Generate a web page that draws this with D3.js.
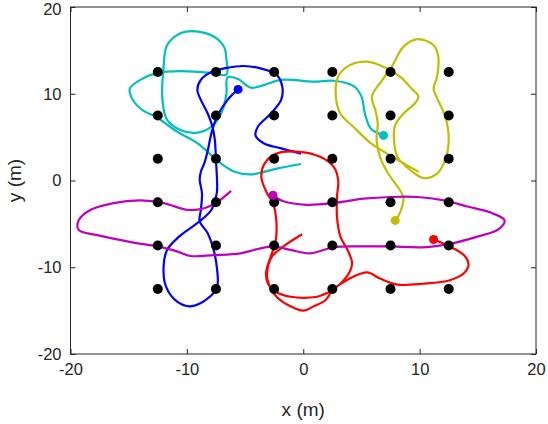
<!DOCTYPE html>
<html><head><meta charset="utf-8">
<script src="https://cdn.jsdelivr.net/npm/d3@7"></script>
<style>body{margin:0;background:#fff}</style></head>
<body><svg id="c" width="548" height="424"></svg>
<script>
const xTicks=[-20,-10,0,10,20], yTicks=[-20,-10,0,10,20];
const gridX=[-12.5,-7.5,-2.5,2.5,7.5,12.5], gridY=[-12.5,-7.5,-2.5,2.5,7.5,12.5];
const cyan=[[-0.2,1.9],[-2.2,1.4],[-4.5,0.7],[-5.9,1.0],[-7.1,2.0],[-9.1,4.3],[-10.8,5.6],[-12.5,7.2],[-14.0,8.3],[-14.8,9.7],[-14.9,10.6],[-14.0,11.6],[-12.5,12.4],[-10.5,12.6],[-7.9,12.4],[-6.6,12.2],[-6.6,13.9],[-6.8,15.4],[-7.7,16.6],[-9.2,17.2],[-10.5,17.0],[-11.7,15.6],[-12.0,13.1],[-12.1,9.3],[-11.7,7.0],[-10.5,5.8],[-9.2,5.5],[-7.8,6.3],[-7.0,7.9],[-6.6,10.0],[-6.5,11.9],[-5.6,11.7],[-4.5,10.7],[-3.4,11.0],[-1.9,11.6],[0.9,11.4],[2.6,11.5],[4.3,10.9],[5.0,9.7],[5.3,7.7],[5.8,6.0],[6.9,5.2]];
const blue=[[-0.2,3.1],[-1.9,3.7],[-3.4,4.3],[-4.1,5.2],[-3.9,6.2],[-2.8,7.7],[-1.9,9.3],[-1.8,10.8],[-2.3,12.2],[-3.6,12.9],[-5.1,13.2],[-6.5,13.0],[-7.9,12.5],[-8.8,11.6],[-9.1,10.4],[-8.8,9.3],[-8.2,7.7],[-7.8,6.2],[-7.6,4.7],[-7.5,2.4],[-7.4,-1.1],[-7.5,-1.9],[-7.9,-3.4],[-8.9,-4.7],[-10.7,-6.5],[-11.7,-8.0],[-12.0,-9.9],[-11.8,-12.2],[-10.8,-14.0],[-9.7,-14.5],[-8.2,-13.6],[-7.4,-12.2],[-7.4,-10.3],[-7.7,-8.0],[-8.2,-6.1],[-8.9,-4.7],[-8.8,-3.4],[-8.7,-1.5],[-8.9,0.1],[-8.8,1.0],[-8.5,2.0],[-8.2,3.5],[-7.9,5.4],[-7.4,7.4],[-6.5,9.3],[-5.6,10.5]];
const magenta=[[-6.2,-1.2],[-7.5,-2.6],[-8.5,-3.2],[-9.9,-3.4],[-12.0,-2.6],[-14.0,-2.3],[-16.3,-2.6],[-18.3,-3.4],[-19.3,-4.6],[-19.3,-5.7],[-17.7,-6.3],[-14.8,-7.1],[-12.5,-7.6],[-10.8,-8.2],[-9.7,-8.7],[-7.7,-8.6],[-5.4,-8.4],[-3.9,-7.9],[-2.6,-7.6],[-1.1,-8.0],[0.6,-8.4],[2.6,-7.7],[4.9,-7.6],[7.5,-7.6],[10.3,-7.7],[12.6,-7.3],[14.9,-6.5],[16.8,-5.6],[17.3,-4.6],[16.1,-3.7],[14.1,-3.0],[12.1,-2.3],[9.8,-1.9],[7.5,-1.9],[5.2,-2.1],[2.6,-2.6],[0.3,-2.8],[-1.7,-2.4],[-2.6,-1.7]];
const red=[[-0.1,-6.2],[-1.7,-7.6],[-2.7,-8.8],[-3.1,-10.5],[-3.0,-11.8],[-2.3,-13.4],[-1.1,-14.5],[0.0,-15.0],[0.9,-14.5],[1.9,-13.8],[2.3,-12.9],[1.2,-13.4],[-1.1,-13.4],[-2.4,-12.8],[-3.0,-12.0],[-3.2,-10.7],[-2.8,-8.8],[-2.4,-7.2],[-2.3,-4.9],[-2.6,-2.6],[-3.1,-1.5],[-3.6,0.4],[-3.3,2.0],[-2.3,3.1],[-0.3,3.3],[1.5,2.7],[2.6,1.6],[3.0,0.1],[2.9,-1.9],[2.9,-4.2],[3.2,-6.5],[3.8,-8.0],[4.2,-9.5],[4.0,-10.5],[3.2,-11.9],[2.5,-12.6],[2.9,-12.2],[4.3,-11.1],[5.5,-10.6],[6.6,-11.3],[8.1,-12.0],[10.3,-11.9],[12.6,-11.5],[13.8,-10.7],[14.2,-9.7],[13.8,-8.6],[12.6,-7.6],[11.2,-6.8]];
const yellow=[[9.9,1.0],[8.6,2.0],[7.2,3.1],[5.8,4.3],[4.3,6.2],[3.2,7.7],[2.8,9.7],[3.0,12.0],[4.0,13.3],[5.5,13.7],[6.9,13.1],[8.3,12.0],[9.3,10.6],[9.9,9.7],[9.6,8.9],[8.6,7.7],[7.9,6.4],[7.8,4.7],[8.1,2.7],[9.2,1.2],[10.3,0.3],[11.5,0.8],[12.2,2.4],[12.5,4.7],[12.2,7.4],[11.5,9.5],[11.2,10.6],[11.5,12.0],[11.6,14.3],[11.2,15.6],[9.8,16.3],[8.6,15.4],[7.6,13.1],[6.8,11.6],[5.9,9.7],[6.2,8.1],[6.4,6.6],[6.3,4.7],[6.6,2.7],[7.3,0.8],[8.3,-1.1],[8.6,-1.9],[8.5,-3.0],[8.2,-4.0],[7.9,-4.6]];
const series=[{d:cyan,c:"#00BFBF"},{d:blue,c:"#0000FF"},{d:yellow,c:"#BFBF00"},{d:red,c:"#FF0000"},{d:magenta,c:"#BF00BF"}];

const L=70.5,R=536,T=7,B=354;
const x=d3.scaleLinear().domain([-20,20]).range([L,R]);
const y=d3.scaleLinear().domain([-20,20]).range([B,T]);
const svg=d3.select("#c");
const font="Helvetica, Arial, 'Liberation Sans', sans-serif";
const line=d3.line().x(d=>x(d[0])).y(d=>y(d[1])).curve(d3.curveCatmullRom.alpha(0.5));
series.forEach(s=>svg.append("path").attr("d",line(s.d)).attr("fill","none").attr("stroke",s.c).attr("stroke-width",2.2));
gridY.forEach(gy=>gridX.forEach(gx=>svg.append("circle").attr("cx",x(gx)).attr("cy",y(gy)).attr("r",5).attr("fill","#000")));
series.forEach(s=>{const e=s.d[s.d.length-1];svg.append("circle").attr("cx",x(e[0])).attr("cy",y(e[1])).attr("r",4.5).attr("fill",s.c);});
const fmt=d=>d<0?"-"+(-d):String(d);
const ax=svg.append("g").attr("transform",`translate(0,${B})`).call(d3.axisBottom(x).tickValues(xTicks).tickSize(-5).tickPadding(9).tickFormat(fmt));
const ax2=svg.append("g").attr("transform",`translate(0,${T})`).call(d3.axisTop(x).tickValues(xTicks).tickSize(-5).tickFormat(""));
const ay=svg.append("g").attr("transform",`translate(${L},0)`).call(d3.axisLeft(y).tickValues(yTicks).tickSize(-5).tickPadding(9).tickFormat(fmt));
const ay2=svg.append("g").attr("transform",`translate(${R},0)`).call(d3.axisRight(y).tickValues(yTicks).tickSize(-5).tickFormat(""));
[ax,ax2,ay,ay2].forEach(g=>{g.select(".domain").remove();g.selectAll("line").attr("stroke","#262626");g.selectAll("text").attr("font-family",font).attr("font-size",16.5).attr("fill","#262626");});
ay.selectAll(".tick").filter(d=>d===20).select("text").attr("dy","0.45em");
svg.append("rect").attr("x",L).attr("y",T).attr("width",R-L).attr("height",B-T).attr("fill","none").attr("stroke","#262626").attr("stroke-width",1);
svg.append("text").attr("x",(L+R)/2).attr("y",416).attr("text-anchor","middle").attr("font-family",font).attr("font-size",19).attr("fill","#262626").text("x (m)");
svg.append("text").attr("transform",`translate(21,${(T+B)/2}) rotate(-90)`).attr("text-anchor","middle").attr("font-family",font).attr("font-size",19).attr("fill","#262626").text("y (m)");
</script></body></html>
